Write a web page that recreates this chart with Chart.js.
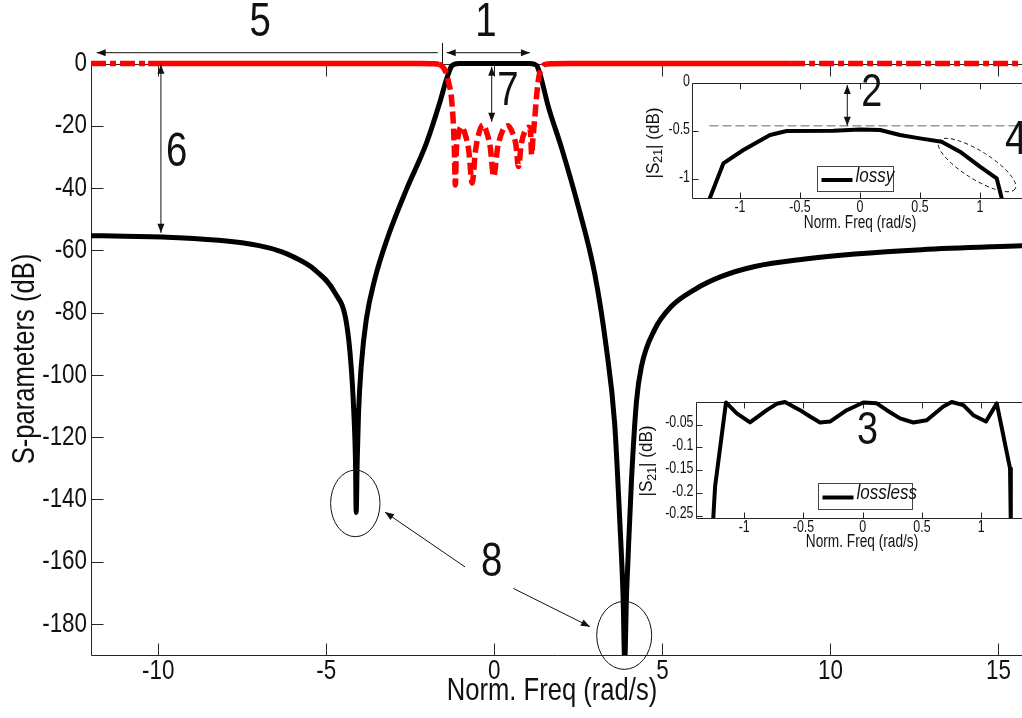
<!DOCTYPE html>
<html>
<head>
<meta charset="utf-8">
<title>S-parameters</title>
<script src="https://cdn.jsdelivr.net/npm/chart.js@4.4.1/dist/chart.umd.min.js"></script>
<style>
  html, body { margin: 0; padding: 0; background: #fff; overflow: hidden; }
  #wrap { position: relative; width: 1022px; height: 718px; }
  canvas { position: absolute; }
  #main { left: 0; top: 0; }
  #lossy { left: 630px; top: 72px; }
  #lossless { left: 630px; top: 392px; }
</style>
</head>
<body>
<div id="wrap">
  <canvas id="main" width="1022" height="718"></canvas>
  <canvas id="lossy" width="392" height="168"></canvas>
  <canvas id="lossless" width="392" height="168"></canvas>
</div>
<script>
// main plot: |S21| (black) and |S11| (red), dB vs normalised frequency
const s21Freq = [-12, -11, -9.9, -8.2, -7.0, -6.34, -6.0, -5.35, -4.74, -4.40, -4.26, -4.18, -4.13, -4.11, -4.08,
  -4.04, -3.96, -3.81, -3.56, -3.16, -2.62, -2.02, -1.63, -1.43, -1.28, -1.18, -1.05, 0, 1.05, 1.18, 1.28, 1.4,
  1.6, 2.0, 2.49, 2.99, 3.33, 3.58, 3.73, 3.83, 3.88, 3.93, 3.98, 4.08, 4.23, 4.38, 4.77, 5.27, 5.96, 6.76, 7.75,
  9.24, 10.73, 12.71, 15.8];
const s21Db = [-55.3, -55.5, -55.7, -56.8, -58.5, -60.4, -62.0, -66.2, -73.7, -83.3, -97.2, -112.2, -128.2, -144.2, -128,
  -112.2, -97.2, -82.3, -69.4, -55.5, -40.6, -25.6, -12.8, -5.3, -1.0, -0.2, 0, 0, 0, -0.2, -1.0, -5.0,
  -13.6, -27.1, -45.6, -67.7, -91.1, -115.6, -146.3, -170.9, -192, -172, -158.6, -134.1, -108.5, -97.2, -85.5, -78.0, -72.6, -68.4, -65.2,
  -62.8, -61.2, -59.8, -58.5];

const s11Freq = [-12, -10.3, -7, -4, -2.2, -1.8, -1.65, -1.58, -1.5, -1.43, -1.35, -1.28, -1.22, -1.19, -1.16,
  -1.13, -1.08, -0.98, -0.86, -0.76, -0.66, -0.56, -0.46, -0.34, -0.23, -0.12, -0.02, 0.1, 0.25, 0.41, 0.55,
  0.64, 0.72, 0.8, 0.9, 1.03, 1.08, 1.11, 1.15, 1.2, 1.27, 1.33, 1.4, 1.46, 1.55, 1.7, 2.2, 4, 7, 8.8, 12, 15.8];
const s11Db = [0, 0, 0, 0, 0, -0.1, -0.3, -0.6, -1.6, -3.1, -6.5, -10.6, -19.2, -27.7, -39.0,
  -28, -23.5, -20.3, -23, -28, -38.4, -28, -22.5, -19.7, -22, -27, -36.3, -27, -21.5, -20.0, -22.5,
  -26, -33.1, -26, -22, -20.5, -22.5, -29.3, -24, -18, -9, -4, -1.8, -0.6, -0.2, -0.05, 0, 0, 0, 0, 0, 0];

const xTicks = [-10, -5, 0, 5, 10, 15];
const yTicks = [0, -20, -40, -60, -80, -100, -120, -140, -160, -180];

// inset 1: lossy passband
const lossyFreq = [-1.265, -1.25, -1.139, -0.972, -0.75, -0.611, -0.222, 0, 0.167, 0.333, 0.5, 0.68, 0.833, 1.0, 1.139, 1.18, 1.19];
const lossyDb = [-1.26, -1.197, -0.839, -0.699, -0.543, -0.501, -0.498, -0.484, -0.491, -0.543, -0.578, -0.612, -0.717, -0.873, -0.995, -1.197, -1.26];
const lossRefFreq = [-1.25, 1.35];
const lossRefDb = [-0.445, -0.445];
const lossyXTicks = [-1, -0.5, 0, 0.5, 1];
const lossyYTicks = [0, -0.5, -1];

// inset 2: lossless passband ripple
const losslessFreq = [-1.263, -1.261, -1.246, -1.154, -1.063, -0.951, -0.81, -0.726, -0.656, -0.529, -0.445, -0.36, -0.276,
  -0.135, 0.005, 0.118, 0.203, 0.315, 0.427, 0.54, 0.68, 0.751, 0.849, 0.933, 1.04, 1.131, 1.243, 1.249, 1.25];
const losslessDb = [-0.27, -0.254, -0.186, -0.001, -0.025, -0.045, -0.018, -0.004, 0, -0.018, -0.032, -0.045, -0.043,
  -0.018, -0.001, -0.003, -0.018, -0.036, -0.045, -0.04, -0.01, 0, -0.007, -0.029, -0.043, -0.003, -0.146, -0.254, -0.27];
const losslessXTicks = [-1, -0.5, 0, 0.5, 1];
const losslessYTicks = [-0.05, -0.1, -0.15, -0.2, -0.25];

const FONT = '"Liberation Sans", Arial, Helvetica, sans-serif';
const pts = (xs, ys) => xs.map((x, i) => ({ x, y: ys[i] }));

// text squeezed sideways like the exported figure
function txt(ctx, s, x, y, size, o = {}) {
  ctx.save();
  ctx.translate(x, y);
  if (o.rot) ctx.rotate(o.rot);
  ctx.scale(o.sx || 0.8, 1);
  ctx.font = (o.italic ? 'italic ' : '') + size + 'px ' + FONT;
  ctx.fillStyle = '#111';
  ctx.textAlign = o.align || 'center';
  ctx.textBaseline = 'middle';
  ctx.fillText(s, 0, 0);
  ctx.restore();
}

// |S21| (dB) with a real subscript
function s21Title(ctx, x, y, size, sx) {
  ctx.save();
  ctx.translate(x, y);
  ctx.rotate(-Math.PI / 2);
  ctx.scale(sx, 1);
  ctx.fillStyle = '#111';
  ctx.textBaseline = 'middle';
  ctx.textAlign = 'left';
  const big = size + 'px ' + FONT, small = Math.round(size * 0.7) + 'px ' + FONT;
  const parts = [['|S', big, 0], ['21', small, size * 0.25], ['| (dB)', big, 0]];
  let w = 0;
  parts.forEach(p => { ctx.font = p[1]; w += ctx.measureText(p[0]).width; });
  let cx = -w / 2;
  parts.forEach(p => { ctx.font = p[1]; ctx.fillText(p[0], cx, p[2]); cx += ctx.measureText(p[0]).width; });
  ctx.restore();
}

function head(ctx, x0, y0, x1, y1) {
  const a = Math.atan2(y1 - y0, x1 - x0), L = 9, W = 3.5;
  ctx.beginPath();
  ctx.moveTo(x1, y1);
  ctx.lineTo(x1 - L * Math.cos(a) + W * Math.sin(a), y1 - L * Math.sin(a) - W * Math.cos(a));
  ctx.lineTo(x1 - L * Math.cos(a) - W * Math.sin(a), y1 - L * Math.sin(a) + W * Math.cos(a));
  ctx.closePath();
  ctx.fill();
}

function arrow(ctx, x0, y0, x1, y1, both) {
  ctx.beginPath();
  ctx.moveTo(x0, y0);
  ctx.lineTo(x1, y1);
  ctx.stroke();
  head(ctx, x0, y0, x1, y1);
  if (both) head(ctx, x1, y1, x0, y0);
}

function ellipse(ctx, x, y, rx, ry, rot, dash) {
  ctx.save();
  ctx.setLineDash(dash || []);
  ctx.beginPath();
  ctx.ellipse(x, y, rx, ry, rot || 0, 0, Math.PI * 2);
  ctx.stroke();
  ctx.restore();
}

function legendBox(ctx, X, Y, x0, x1, y0, y1, label) {
  const l = Math.round(X(x0)) + 0.5, r = Math.round(X(x1)) + 0.5;
  const t = Math.round(Y(y0)) + 0.5, b = Math.round(Y(y1)) + 0.5;
  ctx.save();
  ctx.fillStyle = '#fff';
  ctx.fillRect(l, t, r - l, b - t);
  ctx.strokeStyle = '#444';
  ctx.lineWidth = 1;
  ctx.strokeRect(l, t, r - l, b - t);
  ctx.strokeStyle = '#000';
  ctx.lineWidth = 4;
  ctx.beginPath();
  ctx.moveTo(l + 4, (t + b) / 2 + 1);
  ctx.lineTo(l + 35, (t + b) / 2 + 1);
  ctx.stroke();
  ctx.restore();
  txt(ctx, label, l + 38, (t + b) / 2 - 3, 20, { italic: true, sx: 0.85, align: 'left' });
}

// box and inward ticks under the curves, labels and notes above them
const frame = {
  id: 'frame',
  beforeDatasetsDraw(chart, args, o) {
    const { ctx, chartArea: a, scales: { x, y } } = chart;
    const L = Math.round(a.left) + 0.5, T = Math.round(a.top) + 0.5, B = Math.round(a.bottom) + 0.5, R = a.right + 2;
    ctx.save();
    ctx.strokeStyle = '#262626';
    ctx.lineWidth = 1;
    ctx.beginPath();
    ctx.moveTo(R, T); ctx.lineTo(L, T); ctx.lineTo(L, B); ctx.lineTo(R, B);
    x.ticks.forEach(t => {
      const px = Math.round(x.getPixelForValue(t.value)) + 0.5;
      ctx.moveTo(px, B); ctx.lineTo(px, B - o.tick);
      ctx.moveTo(px, T); ctx.lineTo(px, T + o.tick);
    });
    y.ticks.forEach(t => {
      const py = Math.round(y.getPixelForValue(t.value)) + 0.5;
      ctx.moveTo(L, py); ctx.lineTo(L + o.tick, py);
    });
    ctx.stroke();
    ctx.restore();
  },
  afterDatasetsDraw(chart, args, o) {
    const { ctx, chartArea: a, scales: { x, y } } = chart;
    x.ticks.forEach(t => txt(ctx, String(t.value), x.getPixelForValue(t.value), a.bottom + o.xDy, o.size, { sx: o.sx }));
    y.ticks.forEach(t => txt(ctx, String(t.value), a.left - o.yDx, y.getPixelForValue(t.value) + o.yDy, o.size, { sx: o.sx, align: 'right' }));
    if (o.notes) {
      ctx.save();
      ctx.strokeStyle = '#111';
      ctx.fillStyle = '#111';
      ctx.lineWidth = 1;
      o.notes(ctx, v => x.getPixelForValue(v), v => y.getPixelForValue(v));
      ctx.restore();
    }
  }
};

function axes(xMin, xMax, yMin, yMax, xT, yT, yWidth, xHeight) {
  return {
    x: {
      type: 'linear', min: xMin, max: xMax,
      grid: { display: false }, border: { display: false }, ticks: { display: false },
      afterBuildTicks: s => { s.ticks = xT.map(v => ({ value: v })); },
      afterFit: s => { s.height = xHeight; }
    },
    y: {
      type: 'linear', min: yMin, max: yMax,
      grid: { display: false }, border: { display: false }, ticks: { display: false },
      afterBuildTicks: s => { s.ticks = yT.map(v => ({ value: v })); },
      afterFit: s => { s.width = yWidth; }
    }
  };
}

const lineStyle = { pointRadius: 0, borderJoinStyle: 'round', borderCapStyle: 'round', fill: false };
const DASH_DOT = [15, 4, 6, 4];
const DASHED = [12, 5];
function s11Dash(c) {
  const a = c.p0.parsed.x, b = c.p1.parsed.x;
  if (b <= -10.3 || a >= 8.8) return DASH_DOT;
  if (a >= -1.65 && b <= 1.55) return DASHED;
  return [];
}

new Chart(document.getElementById('main'), {
  type: 'line',
  data: {
    datasets: [
      { ...lineStyle, label: '|S11|', data: pts(s11Freq, s11Db), borderColor: '#ff0000', borderWidth: 5.5, borderCapStyle: 'butt',
        cubicInterpolationMode: 'monotone', segment: { borderDash: s11Dash }, clip: { left: 0, top: 6, right: 0, bottom: 0 } },
      { ...lineStyle, label: '|S21|', data: pts(s21Freq, s21Db), borderColor: '#000', borderWidth: 5,
        cubicInterpolationMode: 'monotone', clip: { left: 0, top: 6, right: 0, bottom: 0 } }
    ]
  },
  options: {
    responsive: false, animation: false, devicePixelRatio: 1,
    layout: { padding: { top: 63.5, left: 0, right: 0, bottom: 0 } },
    scales: axes(-12, 15.7, -190, 0, xTicks, yTicks, 91, 63),
    plugins: {
      legend: { display: false }, tooltip: { enabled: false },
      frame: {
        tick: 12, size: 28, sx: 0.8, xDy: 16, yDx: 4, yDy: 0,
        notes: (ctx, X, Y) => {
          txt(ctx, 'S-parameters (dB)', 25, 359, 32, { rot: -Math.PI / 2, sx: 0.8 });
          txt(ctx, 'Norm. Freq (rad/s)', 552, 691, 32, { sx: 0.8 });
          // 5 : stop band, 1 : pass band
          arrow(ctx, X(-1.68), Y(3.47), X(-11.83), Y(3.47), false);
          ctx.beginPath(); ctx.moveTo(Math.round(X(-1.566)) + 0.5, Y(6.6)); ctx.lineTo(Math.round(X(-1.566)) + 0.5, Y(0)); ctx.stroke();
          arrow(ctx, X(-1.417), Y(3.47), X(1.06), Y(3.47), true);
          // 6 : rejection, 7 : return loss
          arrow(ctx, X(-9.92), Y(-0.4), X(-9.92), Y(-54.4), true);
          arrow(ctx, X(-0.078), Y(-1.03), X(-0.078), Y(-18.7), true);
          // 8 : transmission zeros
          ellipse(ctx, X(-4.136), Y(-141.3), 24.7, 33.3);
          ellipse(ctx, X(3.864), Y(-183.7), 27.5, 34);
          arrow(ctx, X(-0.872), Y(-161.7), X(-3.253), Y(-144.1), false);
          arrow(ctx, X(0.565), Y(-168.6), X(2.847), Y(-180.9), false);
          [['5', -6.97, 13.2], ['1', -0.25, 13.2], ['6', -9.45, -28.6], ['7', 0.406, -9.06], ['8', -0.078, -160.5]]
            .forEach(n => txt(ctx, n[0], X(n[1]), Y(n[2]), 48, { sx: 0.8 }));
        }
      }
    }
  },
  plugins: [frame]
});

new Chart(document.getElementById('lossy'), {
  type: 'line',
  data: {
    datasets: [
      { ...lineStyle, label: 'lossy', data: pts(lossyFreq, lossyDb), borderColor: '#000', borderWidth: 4, tension: 0,
        clip: { left: 0, top: 4, right: 0, bottom: 0 } },
      { ...lineStyle, label: 'ref', data: pts(lossRefFreq, lossRefDb), borderColor: '#9a9a9a', borderWidth: 1.5, borderDash: [8, 5] }
    ]
  },
  options: {
    responsive: false, animation: false, devicePixelRatio: 1,
    layout: { padding: { top: 11, left: 0, right: 0, bottom: 0 } },
    scales: axes(-1.4, 1.35, -1.2, 0, lossyXTicks, lossyYTicks, 62, 42),
    plugins: {
      legend: { display: false }, tooltip: { enabled: false },
      frame: {
        tick: 6, size: 17, sx: 0.73, xDy: 9, yDx: 2, yDy: -2,
        notes: (ctx, X, Y) => {
          s21Title(ctx, 24, 71, 18, 0.95);
          txt(ctx, 'Norm. Freq (rad/s)', 230, 151, 18, { sx: 0.76 });
          arrow(ctx, X(-0.106), Y(-0.02), X(-0.106), Y(-0.445), true);
          ellipse(ctx, X(0.975), Y(-0.856), 45, 14, 0.56, [4, 3]);
          legendBox(ctx, X, Y, -0.358, 0.275, -0.866, -1.127, 'lossy');
          txt(ctx, '2', X(0.0975), Y(-0.108), 46, { sx: 0.82 });
          txt(ctx, '4', X(1.3), Y(-0.6), 48, { sx: 0.82 });
        }
      }
    }
  },
  plugins: [frame]
});

new Chart(document.getElementById('lossless'), {
  type: 'line',
  data: {
    datasets: [
      { ...lineStyle, label: 'lossless', data: pts(losslessFreq, losslessDb), borderColor: '#000', borderWidth: 4, tension: 0,
        clip: { left: 0, top: 4, right: 0, bottom: 0 } }
    ]
  },
  options: {
    responsive: false, animation: false, devicePixelRatio: 1,
    layout: { padding: { top: 10, left: 0, right: 0, bottom: 0 } },
    scales: axes(-1.407, 1.344, -0.255, 0, losslessXTicks, losslessYTicks, 66, 42),
    plugins: {
      legend: { display: false }, tooltip: { enabled: false },
      frame: {
        tick: 6, size: 17, sx: 0.73, xDy: 9, yDx: 2.5, yDy: -2,
        notes: (ctx, X, Y) => {
          s21Title(ctx, 17.5, 69, 18, 0.95);
          txt(ctx, 'Norm. Freq (rad/s)', 232, 150, 18, { sx: 0.76 });
          legendBox(ctx, X, Y, -0.377, 0.416, -0.178, -0.235, 'lossless');
          txt(ctx, '3', X(0.04), Y(-0.065), 46, { sx: 0.82 });
        }
      }
    }
  },
  plugins: [frame]
});
</script>
</body>
</html>
